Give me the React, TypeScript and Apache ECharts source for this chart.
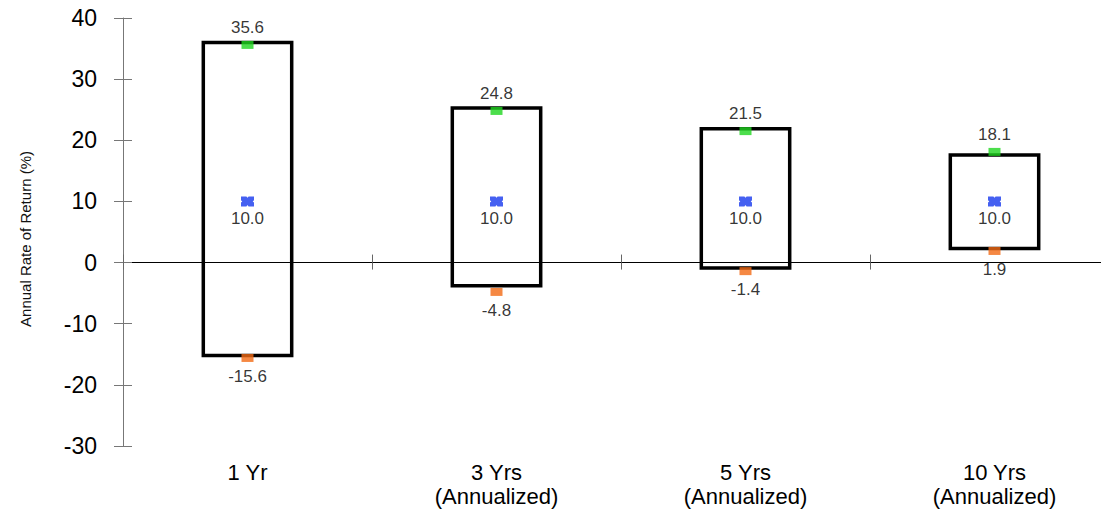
import React, { useEffect, useRef } from "react";
import * as echarts from "echarts";

const categories = ["1 Yr", "3 Yrs\n(Annualized)", "5 Yrs\n(Annualized)", "10 Yrs\n(Annualized)"];
const highValues = [35.6, 24.8, 21.5, 18.1];
const midValues = [10.0, 10.0, 10.0, 10.0];
const lowValues = [-15.6, -4.8, -1.4, 1.9];
const boxTop = [36.0, 25.3, 21.9, 17.6];
const boxBottom = [-15.2, -3.8, -0.9, 2.3];
const yMin = -30;
const yMax = 40;
const yInterval = 10;

const FONT = "Liberation Sans, Arial, sans-serif";

export default function App() {
  const ref = useRef<HTMLDivElement>(null);
  useEffect(() => {
    if (!ref.current) return;
    const chart = echarts.init(ref.current, undefined, { renderer: "svg" });
    const valueLabel = (p: any) => Number(p.value).toFixed(1);
    const labelStyle = { color: "#000", fontSize: 17, fontFamily: FONT };
    const yBase = {
      type: "value",
      min: yMin,
      max: yMax,
      interval: yInterval,
      splitLine: { show: false },
    };
    const xBase = { type: "category", data: categories, boundaryGap: true };
    chart.setOption({
      animation: false,
      backgroundColor: "#fff",
      grid: { left: 123, top: 18, width: 996, height: 428, containLabel: false },
      xAxis: [
        {
          ...xBase,
          position: "bottom",
          axisLine: { show: false, onZero: false },
          axisTick: { show: false },
          axisLabel: { color: "#000", fontSize: 22, fontFamily: FONT, margin: 14, lineHeight: 24 },
        },
        {
          ...xBase,
          position: "bottom",
          axisLine: { show: true, onZero: true, lineStyle: { color: "#000", width: 1 } },
          axisTick: { show: true, inside: false, length: 7, lineStyle: { color: "#666" } },
          axisLabel: { show: false },
        },
        {
          ...xBase,
          position: "bottom",
          axisLine: { show: true, onZero: true, lineStyle: { color: "#000", width: 1 } },
          axisTick: { show: true, inside: true, length: 8, lineStyle: { color: "#666" } },
          axisLabel: { show: false },
        },
      ],
      yAxis: [
        {
          ...yBase,
          position: "left",
          name: "Annual Rate of Return (%)",
          nameLocation: "middle",
          nameGap: 90,
          nameTextStyle: { fontSize: 15, color: "#111", fontFamily: FONT, padding: [0, 0, 0, -14] },
          axisLine: { show: true, onZero: false, lineStyle: { color: "#777", width: 1 } },
          axisTick: { show: true, inside: false, length: 9, lineStyle: { color: "#777" } },
          axisLabel: { color: "#000", fontSize: 23, fontFamily: FONT, margin: 26 },
        },
        {
          ...yBase,
          position: "left",
          axisLine: { show: false, onZero: false },
          axisTick: { show: true, inside: true, length: 9, lineStyle: { color: "#777" } },
          axisLabel: { show: false },
        },
      ],
      series: [
        {
          type: "custom",
          xAxisIndex: 0,
          yAxisIndex: 0,
          z: 2,
          data: categories.map((_, i) => [i, boxBottom[i], boxTop[i]]),
          encode: { x: 0, y: [1, 2] },
          renderItem: (params: any, api: any) => {
            const top = api.coord([api.value(0), api.value(2)]);
            const bot = api.coord([api.value(0), api.value(1)]);
            const w = api.size([1, 0])[0] * 0.355;
            return {
              type: "rect",
              shape: { x: top[0] - w / 2, y: top[1], width: w, height: bot[1] - top[1] },
              style: { fill: "none", stroke: "#000", lineWidth: 3.5 },
            };
          },
        },
        {
          type: "scatter",
          xAxisIndex: 0,
          yAxisIndex: 0,
          z: 3,
          data: highValues,
          symbol: "rect",
          symbolSize: [12, 8],
          itemStyle: { color: "#1fd61f" },
          label: { show: true, position: "top", distance: 5, formatter: valueLabel, ...labelStyle },
        },
        {
          type: "scatter",
          xAxisIndex: 0,
          yAxisIndex: 0,
          z: 3,
          data: midValues,
          symbol: "path://M0,0 L5,0 L6,1.2 L7,0 L12,0 L12,3.5 L10.8,4.5 L12,5.5 L12,9 L7,9 L6,7.8 L5,9 L0,9 L0,5.5 L1.2,4.5 L0,3.5 Z",
          symbolSize: [13, 10],
          itemStyle: { color: "#1638ee" },
          label: { show: true, position: "bottom", distance: 4, formatter: valueLabel, ...labelStyle },
        },
        {
          type: "scatter",
          xAxisIndex: 0,
          yAxisIndex: 0,
          z: 3,
          data: lowValues,
          symbol: "rect",
          symbolSize: [12, 8],
          itemStyle: { color: "#f26a14" },
          label: { show: true, position: "bottom", distance: 6, formatter: valueLabel, ...labelStyle },
        },
      ],
    });
    return () => chart.dispose();
  }, []);
  return (
    <div style={{ position: "fixed", left: 0, top: 0, width: 1101, height: 514, overflow: "hidden", background: "#fff" }}>
      <div ref={ref} style={{ width: 1130, height: 514 }} />
    </div>
  );
}
